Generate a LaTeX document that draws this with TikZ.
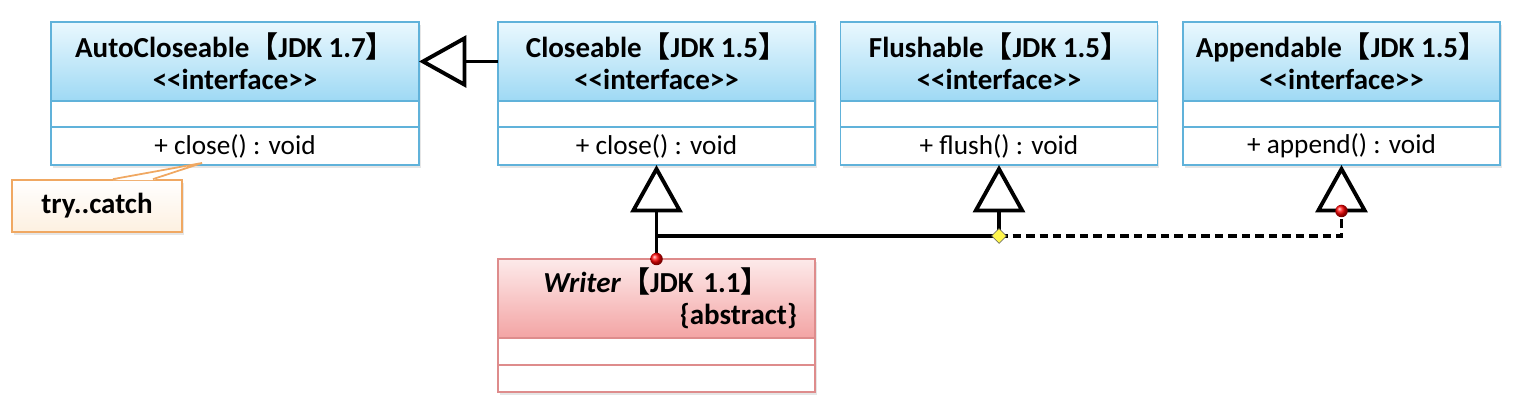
\documentclass[tikz,border=0pt]{standalone}
\usepackage{fontspec}
\setmainfont{Carlito}
\newfontfamily\cjkfont{Noto Sans CJK SC}
\usetikzlibrary{arrows.meta,positioning,shapes.geometric,shadows,calc}
\definecolor{ifline}{RGB}{96,178,218}
\definecolor{iftop}{RGB}{234,248,254}
\definecolor{ifbot}{RGB}{158,217,244}
\definecolor{abline}{RGB}{222,140,140}
\definecolor{abtop}{RGB}{253,234,234}
\definecolor{abbot}{RGB}{243,164,164}
\definecolor{noteline}{RGB}{240,168,98}
\definecolor{notebot}{RGB}{253,240,224}
\newcommand{\jdk}[1]{{\cjkfont【}JDK #1{\cjkfont】}}
\newcommand{\umlfont}{\fontsize{15.5}{18.2}\selectfont}
\newcommand{\headfont}{\fontsize{16.5}{18.2}\selectfont\bfseries}

\begin{document}
\begin{tikzpicture}[x=0.02cm, y=-0.02cm,
  head/.style={rectangle, draw=ifline, line width=0.9pt, top color=iftop, bottom color=ifbot, minimum width=6.34cm, minimum height=1.58cm, align=center, outer sep=0pt, font=\headfont, anchor=north, drop shadow={opacity=0.2, shadow xshift=0.04cm, shadow yshift=-0.06cm}},
  attr/.style={rectangle, draw=ifline, line width=0.9pt, fill=white, minimum width=6.34cm, minimum height=0.52cm, outer sep=0pt, inner sep=0pt, drop shadow={opacity=0.2, shadow xshift=0.04cm, shadow yshift=-0.06cm}},
  meth/.style={attr, minimum height=0.76cm, font=\umlfont},
  abshead/.style={head, draw=abline, top color=abtop, bottom color=abbot},
  abspart/.style={attr, draw=abline, minimum height=0.54cm},
  note/.style={rectangle, draw=noteline, line width=1pt, top color=white, bottom color=notebot, minimum width=3.4cm, minimum height=1.04cm, font=\headfont, drop shadow={opacity=0.2, shadow xshift=0.04cm, shadow yshift=-0.06cm}},
  gen/.style={-{Triangle[open, length=0.95cm, width=1.04cm]}, line width=2.2pt},
  dot/.style={circle, inner sep=0pt, minimum size=0.25cm, ball color=red},
  jdot/.style={diamond, draw=gray!70!black, line width=0.3pt, fill=yellow!70, inner sep=0pt, minimum size=0.3cm}
]
\useasboundingbox (0,0) rectangle (1515,404);

% Interfaces
\node[head, minimum width=7.36cm] (acH) at (235,22) {AutoCloseable\jdk{1.7}\\<{}<interface>{}>};
\node[attr, minimum width=7.36cm, below=0pt of acH] (acA) {};
\node[meth, minimum width=7.36cm, below=0pt of acA] (acM) {+ close() : void};

\node[head] (clH) at (656.5,22) {Closeable\jdk{1.5}\\<{}<interface>{}>};
\node[attr, below=0pt of clH] (clA) {};
\node[meth, below=0pt of clA] (clM) {+ close() : void};

\node[head] (flH) at (999,22) {Flushable\jdk{1.5}\\<{}<interface>{}>};
\node[attr, below=0pt of flH] (flA) {};
\node[meth, below=0pt of flA] (flM) {+ flush() : void};

\node[head] (apH) at (1341.5,22) {Appendable\jdk{1.5}\\<{}<interface>{}>};
\node[attr, below=0pt of apH] (apA) {};
\node[meth, below=0pt of apA] (apM) {+ append() : void};

% Abstract class
\node[abshead, text width=5.62cm, inner xsep=0pt] (wrH) at (656.5,259) {\textit{Writer}\jdk{1.1}\\\hspace*{\fill}\{abstract\}};
\node[abspart, below=0pt of wrH] (wrA) {};
\node[abspart, below=0pt of wrA] (wrM) {};

% Note
\node[note] (tc) at (97,206) {try..catch};
\coordinate (pin) at (202,163);
\fill[white] ($(tc.north)+(16,1)$) -- (pin) -- ($(tc.north)+(56,1)$) -- cycle;
\draw[noteline, line width=1pt] ($(tc.north)+(16,0)$) -- (pin) -- ($(tc.north)+(56,0)$);

% Generalizations
\draw[gen] (clH) -- (acH);
\draw[gen] (wrH.north) -- (clM.south);
\coordinate (jn) at (999,236);
\draw[gen] (wrH.north) |- (jn) -- (flM.south);
\draw[gen, dash pattern=on 0.17cm off 0.1cm] (jn) -| (apM.south);

\node[dot] (d1) at (wrH.north) {};
\node[dot] (d2) at (1341.5,211) {};
\node[jdot] (jd) at (jn) {};

\end{tikzpicture}
\end{document}
